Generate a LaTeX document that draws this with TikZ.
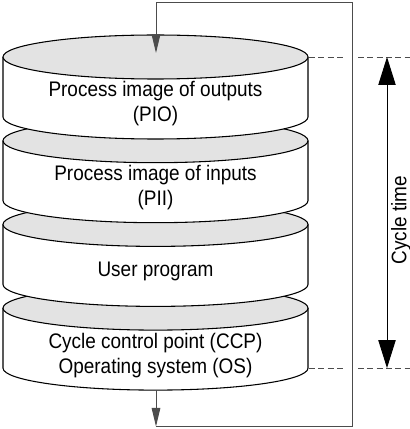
\documentclass[tikz,border=0pt]{standalone}
\usepackage{fontspec}
\setmainfont{Liberation Sans}[FakeStretch=0.9]
\usetikzlibrary{arrows.meta}
\definecolor{diskgray}{gray}{0.89}
\definecolor{framegray}{gray}{0.3}

\begin{document}
\begin{tikzpicture}[x=0.75pt,y=0.75pt,line width=0.8pt,
  font=\fontsize{15.8pt}{18.8pt}\selectfont,
  flow/.style={draw=framegray,line width=0.7pt,-{Triangle[length=14pt,width=6.5pt]}},
  limit/.style={draw=framegray,line width=0.6pt,dash pattern=on 4.5pt off 2.5pt},
  cycle arrow/.style={line width=0.7pt,{Triangle[length=21pt,width=13pt]}-{Triangle[length=21pt,width=13pt]}}]
\useasboundingbox (0,0) rectangle (410,429);
\coordinate (in) at (156,376);
\coordinate (out) at (156,38.9);
\coordinate (A) at (156,2.5);
\coordinate (B) at (352,2.5);
\coordinate (C) at (352,426.5);
\coordinate (D) at (156,426.5);
\coordinate (T) at (387,372);
\coordinate (U) at (387,60.9);
% disks, lowest first
\foreach \yt/\txt [count=\i] in {120.9/{Cycle control point (CCP)\\Operating system (OS)},
  204.6/{User program},288.3/{Process image of inputs\\(PII)},372/{Process image of outputs\\(PIO)}}{
  \fill[white] (3,\yt) -- (3,{\yt-60}) arc[start angle=180,end angle=360,x radius=152.5,y radius=22] -- (308,\yt) -- cycle;
  \draw (3,\yt) -- (3,{\yt-60}) arc[start angle=180,end angle=360,x radius=152.5,y radius=22] -- (308,\yt);
  \filldraw[fill=diskgray] (155.5,\yt) ellipse[x radius=152.5,y radius=22];
  \node[align=center] (disk\i) at (155.5,{\yt-47}) {\txt};
}
\draw[flow] (out) -- (A);
\draw[flow] (A) -- (B) -- (C) -- (D) -- (in);
\draw[limit] (309,372) -- (346,372) (358,372) -- (410,372);
\draw[limit] (309,60.9) -- (346,60.9) (358,60.9) -- (410,60.9);
\draw[cycle arrow] (U) -- (T);
\node[rotate=90] (cycle) at (401,209) {Cycle time};
\end{tikzpicture}
\end{document}
